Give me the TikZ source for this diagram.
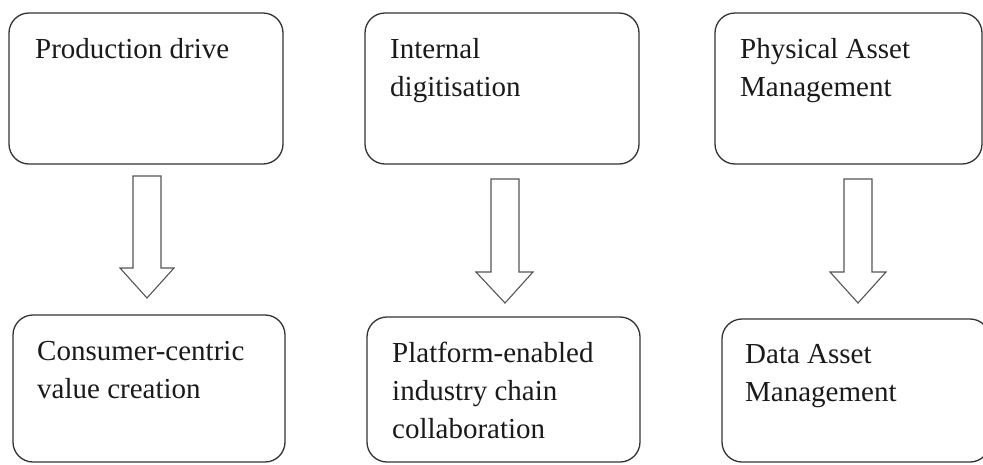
\documentclass[tikz,border=0pt]{standalone}
\usepackage{fontspec}
\setmainfont{Liberation Serif}
\usetikzlibrary{calc}
\definecolor{linec}{HTML}{333333}
\definecolor{arrc}{HTML}{555555}
\definecolor{txtc}{HTML}{1A1A1A}
\tikzset{
  roundbox/.style={draw=linec, line width=1.3pt, rounded corners=20pt},
  boxtext/.style={anchor=base west, inner sep=0pt, text=txtc,
    font=\fontsize{29}{38}\selectfont},
  blockarrow/.style={draw=arrc, line width=1.1pt, fill=white, line join=miter}
}
\newcommand{\boxlines}[1]{\parbox[t]{9cm}{\raggedright #1}}
\begin{document}
\begin{tikzpicture}[x=1pt,y=-1pt]
\useasboundingbox (0,0) rectangle (983,464);
% top boxes
\draw[roundbox] (9,13) rectangle (283,164);
\draw[roundbox] (365,13) rectangle (639,164);
\draw[roundbox] (715,13) rectangle (982,164);
% bottom boxes
\draw[roundbox] (13,315) rectangle (285,462);
\draw[roundbox] (367,317) rectangle (640,462);
\draw[roundbox] (722,319) rectangle (990,462);
% texts
\node[boxtext] (t1) at (35,58) {\boxlines{Production drive}};
\node[boxtext] (t2) at (390,58) {\boxlines{Internal\\digitisation}};
\node[boxtext] (t3) at (740,58) {\boxlines{Physical Asset\\Management}};
\node[boxtext] (b1) at (37,360) {\boxlines{Consumer-centric\\value creation}};
\node[boxtext] (b2) at (392,362) {\boxlines{Platform-enabled\\industry chain\\collaboration}};
\node[boxtext] (b3) at (745,363) {\boxlines{Data Asset\\Management}};
% block arrows
\draw[blockarrow] (133,176) -- (161,176) -- (161,268) -- (174,268) -- (147,298) -- (120,268) -- (133,268) -- cycle;
\draw[blockarrow] (491,179) -- (519,179) -- (519,272) -- (533,272) -- (505,303) -- (476,272) -- (491,272) -- cycle;
\draw[blockarrow] (844,179) -- (872,179) -- (872,272) -- (886,272) -- (858,303) -- (830,272) -- (844,272) -- cycle;
\end{tikzpicture}
\end{document}
